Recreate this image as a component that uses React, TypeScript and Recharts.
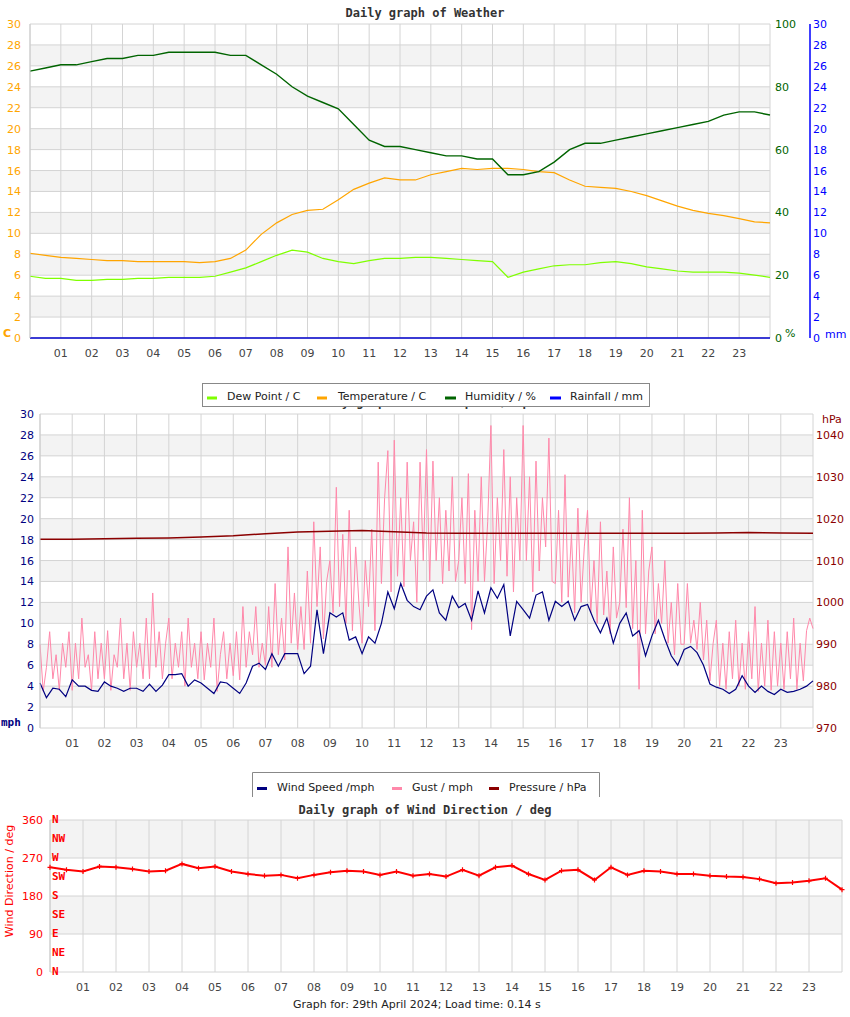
import React from "react";
import { LineChart, Line, XAxis, YAxis, CartesianGrid, ReferenceLine } from "recharts";

const SANS = "'DejaVu Sans', sans-serif";
const MONO = "'DejaVu Sans Mono', monospace";

const hourTicks = [0, 1, 2, 3, 4, 5, 6, 7, 8, 9, 10, 11, 12, 13, 14, 15, 16, 17, 18, 19, 20, 21, 22, 23, 24];

// ---- weather (half-hourly readings) ----
const weatherHours = Array.from({ length: 49 }, (_, i) => i / 2);
const temperature = [
  8.1, 7.9, 7.7, 7.6, 7.5, 7.4, 7.4, 7.3, 7.3, 7.3, 7.3, 7.2, 7.3, 7.6, 8.4, 9.9, 11.0, 11.8, 12.2, 12.3,
  13.2, 14.2, 14.8, 15.3, 15.1, 15.1, 15.6, 15.9, 16.2, 16.1, 16.2, 16.2, 16.1, 15.9, 15.8, 15.1, 14.5, 14.4,
  14.3, 14.0, 13.6, 13.1, 12.6, 12.2, 11.9, 11.7, 11.4, 11.1, 11.0,
];
const dewPoint = [
  5.9, 5.7, 5.7, 5.5, 5.5, 5.6, 5.6, 5.7, 5.7, 5.8, 5.8, 5.8, 5.9, 6.3, 6.7, 7.3, 7.9, 8.4, 8.2, 7.6,
  7.3, 7.1, 7.4, 7.6, 7.6, 7.7, 7.7, 7.6, 7.5, 7.4, 7.3, 5.8, 6.3, 6.6, 6.9, 7.0, 7.0, 7.2, 7.3, 7.1,
  6.8, 6.6, 6.4, 6.3, 6.3, 6.3, 6.2, 6.0, 5.8,
];
const humidity = [
  85, 86, 87, 87, 88, 89, 89, 90, 90, 91, 91, 91, 91, 90, 90, 87, 84, 80, 77, 75,
  73, 68, 63, 61, 61, 60, 59, 58, 58, 57, 57, 52, 52, 53, 56, 60, 62, 62, 63, 64,
  65, 66, 67, 68, 69, 71, 72, 72, 71,
];
const rainHours = [0, 24];
const rainfall = [0, 0];
const tempTicks = [0, 2, 4, 6, 8, 10, 12, 14, 16, 18, 20, 22, 24, 26, 28, 30];
const humTicks = [0, 20, 40, 60, 80, 100];
const rainTicks = [0, 2, 4, 6, 8, 10, 12, 14, 16, 18, 20, 22, 24, 26, 28, 30];

// ---- wind speed (every 12 minutes) ----
const windHours = Array.from({ length: 121 }, (_, i) => i / 5);
const windSpeed = [
  4.3, 2.9, 3.8, 3.7, 3.0, 4.6, 4.0, 4.0, 3.6, 3.5,
  4.4, 4.0, 3.8, 3.5, 3.8, 3.8, 3.5, 4.2, 3.5, 4.1,
  5.1, 5.1, 5.2, 4.0, 4.6, 4.3, 3.8, 3.3, 4.4, 4.3,
  3.8, 3.3, 4.3, 5.9, 6.2, 5.6, 7.1, 5.9, 7.1, 7.1,
  7.1, 5.2, 5.9, 11.3, 7.1, 11.0, 10.6, 11.0, 8.4, 8.7,
  7.1, 8.7, 8.1, 10.0, 13.0, 11.4, 13.8, 12.2, 11.6, 11.3,
  12.6, 13.2, 11.0, 10.3, 12.6, 11.5, 11.9, 10.3, 13.1, 11.0,
  13.4, 12.4, 13.7, 8.8, 12.1, 11.3, 10.5, 12.7, 13.0, 10.3,
  12.1, 11.6, 12.1, 10.3, 11.6, 11.8, 10.3, 9.1, 10.5, 8.1,
  10.0, 11.0, 8.8, 9.3, 6.9, 8.8, 10.3, 8.5, 6.9, 6.0,
  7.5, 7.8, 7.2, 6.0, 4.2, 3.9, 3.7, 3.3, 3.7, 5.0,
  4.0, 3.4, 4.0, 3.5, 3.2, 3.7, 3.4, 3.5, 3.7, 4.0,
  4.5,
];

// ---- gust (every 6 minutes) ----
const gustHours = Array.from({ length: 241 }, (_, i) => i / 10);
const gust = [
  8.0, 3.5, 5.8, 9.2, 4.7, 7.0, 3.6, 8.1, 5.8, 9.2,
  3.6, 8.1, 4.7, 10.5, 5.8, 7.0, 3.6, 9.2, 4.7, 8.1,
  4.7, 9.3, 3.6, 7.0, 5.8, 10.5, 4.7, 8.1, 3.6, 9.2,
  5.8, 8.1, 4.7, 10.5, 4.7, 12.9, 5.8, 9.2, 4.7, 8.1,
  10.5, 4.7, 8.1, 5.8, 9.2, 4.0, 10.5, 5.8, 8.1, 4.7,
  9.2, 4.6, 8.1, 5.8, 10.5, 3.5, 7.0, 9.2, 4.7, 8.1,
  5.0, 9.2, 4.6, 11.6, 5.8, 9.2, 7.0, 11.6, 5.8, 8.1,
  6.0, 11.6, 5.8, 13.8, 7.0, 10.5, 6.5, 17.3, 8.1, 12.9,
  7.5, 11.6, 7.5, 15.0, 8.1, 19.7, 11.6, 17.3, 8.5, 14.0,
  16.0, 11.0, 23.0, 11.6, 18.5, 10.0, 20.8, 9.3, 17.3, 12.0,
  8.1, 16.0, 11.6, 19.0, 9.3, 25.4, 13.8, 22.0, 26.5, 13.0,
  27.5, 14.5, 22.0, 13.5, 25.4, 16.0, 19.7, 12.0, 25.4, 16.0,
  26.6, 14.0, 25.5, 16.0, 22.0, 13.8, 20.8, 15.0, 24.0, 14.0,
  16.0, 22.0, 13.8, 24.3, 9.4, 20.8, 14.0, 24.0, 14.0, 19.7,
  28.9, 13.8, 22.0, 16.0, 26.6, 14.5, 24.0, 13.0, 22.0, 16.0,
  28.9, 16.0, 24.0, 13.0, 25.5, 15.0, 22.0, 17.3, 27.7, 14.0,
  13.8, 20.8, 12.0, 24.2, 12.5, 18.5, 11.0, 21.0, 12.0, 17.3,
  20.8, 11.0, 16.0, 10.0, 19.7, 10.8, 15.0, 9.0, 17.3, 10.5,
  12.0, 19.0, 11.5, 22.0, 9.5, 16.0, 3.7, 20.8, 9.0, 15.0,
  17.3, 9.0, 13.8, 10.0, 16.0, 8.1, 12.0, 7.0, 13.8, 8.0,
  8.0, 13.8, 8.1, 10.3, 7.5, 12.0, 6.5, 10.3, 4.5, 8.1,
  10.3, 4.0, 8.1, 3.7, 9.2, 4.7, 10.3, 4.0, 8.1, 3.7,
  9.2, 4.7, 11.6, 3.5, 8.1, 4.0, 10.3, 3.6, 9.2, 4.0,
  8.1, 3.7, 9.2, 4.7, 10.5, 3.7, 8.1, 4.5, 9.3, 10.5,
  9.5,
];
const pressureHours = hourTicks;
const pressure = [
  1015.1, 1015.1, 1015.2, 1015.3, 1015.4, 1015.6, 1015.9, 1016.4, 1016.8, 1017.0, 1017.2, 1016.9, 1016.6,
  1016.5, 1016.5, 1016.5, 1016.5, 1016.5, 1016.5, 1016.5, 1016.5, 1016.6, 1016.7, 1016.6, 1016.5,
];
const mphTicks = [0, 2, 4, 6, 8, 10, 12, 14, 16, 18, 20, 22, 24, 26, 28, 30];
const hpaTicks = [970, 980, 990, 1000, 1010, 1020, 1030, 1040];

// ---- wind direction (half-hourly) ----
const windDir = [
  248, 242, 238, 250, 248, 244, 238, 240, 256, 246, 250, 238, 232, 228, 230, 222, 230, 236, 240, 238,
  230, 238, 228, 232, 226, 242, 228, 248, 252, 232, 218, 240, 242, 218, 248, 230, 240, 238, 232, 232,
  228, 226, 225, 220, 210, 212, 216, 222, 195,
];
const degTicks = [0, 90, 180, 270, 360];
const compassDeg = [0, 45, 90, 135, 180, 225, 270, 315, 360];
const compass = ["N", "NE", "E", "SE", "S", "SW", "W", "NW", "N"];

const GRID = "#d4d4d4";
const BANDS = ["#ffffff", "#f3f3f3"];

const HourTick = ({ x, y, payload }: any) => {
  const h = payload.value;
  if (h === 0 || h === 24) return <g />;
  return (
    <text x={x} y={y + 19} textAnchor="middle" fontSize={11} fill="#444" fontFamily={SANS}>
      {String(h).padStart(2, "0")}
    </text>
  );
};

const leftTick = (color: string, gap: number) => ({ x, y, payload }: any) => (
  <text x={x - gap} y={y + 4} textAnchor="end" fontSize={11} fill={color} fontFamily={SANS}>
    {payload.value}
  </text>
);

const rightTick = (color: string, gap: number) => ({ x, y, payload }: any) => (
  <text x={x + gap} y={y + 4} textAnchor="start" fontSize={11} fill={color} fontFamily={SANS}>
    {payload.value}
  </text>
);

const PlusDot = (props: any) => {
  const { cx, cy, index } = props;
  return (
    <path key={index} d={`M${cx - 2.5},${cy}h5M${cx},${cy - 2.5}v5`} stroke="#ff0000" strokeWidth={1.2} fill="none" />
  );
};

const axisCommon = { tickLine: false, tickSize: 0, tickMargin: 0, interval: 0 as const };

export default function App() {
  const weatherData = weatherHours.map((t, i) => ({ t, temp: temperature[i], dew: dewPoint[i], hum: humidity[i] }));
  const rainData = rainHours.map((t, i) => ({ t, rain: rainfall[i] }));
  const windData = windHours.map((t, i) => ({ t, wind: windSpeed[i] }));
  const gustData = gustHours.map((t, i) => ({ t, gust: gust[i] }));
  const pressureData = pressureHours.map((t, i) => ({ t, hpa: pressure[i] }));
  const dirData = weatherHours.map((t, i) => ({ t, dir: windDir[i] }));

  return (
    <div style={{ position: "absolute", left: 0, top: 0, width: 850, height: 1017, background: "#fff" }}>
      {/* weather */}
      <div style={{ position: "absolute", left: 0, top: 0 }}>
        <LineChart width={850} height={360} data={weatherData} margin={{ top: 24, right: 0, bottom: 0, left: 0 }}>
          <CartesianGrid yAxisId="temp" stroke={GRID} horizontalFill={BANDS} fillOpacity={1} />
          <XAxis dataKey="t" type="number" domain={[0, 24]} ticks={hourTicks} height={22} tick={HourTick} axisLine={false} {...axisCommon} />
          <YAxis yAxisId="temp" domain={[0, 30]} ticks={tempTicks} width={30} tick={leftTick("#ffa500", 9)} axisLine={{ stroke: "#cccccc" }} {...axisCommon} />
          <YAxis yAxisId="hum" orientation="right" domain={[0, 100]} ticks={humTicks} width={40} tick={rightTick("#006400", 5)} axisLine={false} {...axisCommon} />
          <YAxis yAxisId="rain" orientation="right" domain={[0, 30]} ticks={rainTicks} width={40} tick={rightTick("#0000ff", 3)} axisLine={{ stroke: "#0000ff", strokeWidth: 1.5 }} {...axisCommon} />
          <Line yAxisId="temp" dataKey="dew" type="linear" stroke="#7fff00" strokeWidth={1.2} dot={false} isAnimationActive={false} />
          <Line yAxisId="temp" dataKey="temp" type="linear" stroke="#ffa500" strokeWidth={1.2} dot={false} isAnimationActive={false} />
          <Line yAxisId="hum" dataKey="hum" type="linear" stroke="#006400" strokeWidth={1.4} dot={false} isAnimationActive={false} />
          <Line yAxisId="rain" data={rainData} dataKey="rain" type="linear" stroke="#0000cc" strokeWidth={1.5} dot={false} isAnimationActive={false} />
        </LineChart>
      </div>

      {/* wind speed / gust / pressure */}
      <div style={{ position: "absolute", left: 0, top: 400 }}>
        <LineChart width={850} height={350} data={windData} margin={{ top: 14, right: 0, bottom: 0, left: 0 }}>
          <CartesianGrid yAxisId="mph" stroke={GRID} horizontalFill={BANDS} fillOpacity={1} />
          <XAxis dataKey="t" type="number" domain={[0, 24]} ticks={hourTicks} height={22} tick={HourTick} axisLine={false} {...axisCommon} />
          <YAxis yAxisId="mph" domain={[0, 30]} ticks={mphTicks} width={40} tick={leftTick("#000080", 6)} axisLine={{ stroke: "#cccccc" }} {...axisCommon} />
          <YAxis yAxisId="hpa" orientation="right" domain={[970, 1045]} ticks={hpaTicks} width={37} tick={rightTick("#8b0000", 3)} axisLine={false} {...axisCommon} />
          <Line yAxisId="mph" data={gustData} dataKey="gust" type="linear" stroke="#ff88aa" strokeWidth={1} dot={false} isAnimationActive={false} />
          <Line yAxisId="mph" dataKey="wind" type="linear" stroke="#000080" strokeWidth={1.2} dot={false} isAnimationActive={false} />
          <Line yAxisId="hpa" data={pressureData} dataKey="hpa" type="linear" stroke="#8b0000" strokeWidth={1.5} dot={false} isAnimationActive={false} />
        </LineChart>
      </div>

      {/* wind direction */}
      <div style={{ position: "absolute", left: 0, top: 810 }}>
        <LineChart width={850} height={184} data={dirData} margin={{ top: 10, right: 8, bottom: 0, left: 0 }}>
          <CartesianGrid yAxisId="deg" stroke={GRID} horizontalFill={["#f3f3f3", "#ffffff"]} fillOpacity={1} />
          <XAxis dataKey="t" type="number" domain={[0, 24]} ticks={hourTicks} height={22} tick={HourTick} axisLine={false} {...axisCommon} />
          <YAxis yAxisId="deg" domain={[0, 360]} ticks={degTicks} width={50} tick={leftTick("#ff0000", 7)} axisLine={{ stroke: "#cccccc" }} {...axisCommon} />
          {compassDeg.map((d, i) => (
            <ReferenceLine
              key={`c${i}`}
              yAxisId="deg"
              y={d}
              stroke="none"
              label={{ value: compass[i], position: "insideLeft", offset: 2, dy: -1, fill: "#ff0000", fontSize: 11, fontWeight: "bold", fontFamily: MONO }}
            />
          ))}
          <Line yAxisId="deg" dataKey="dir" type="linear" stroke="#ff0000" strokeWidth={2} dot={PlusDot} isAnimationActive={false} />
        </LineChart>
      </div>

      {/* titles, unit labels, legends */}
      <svg style={{ position: "absolute", left: 0, top: 0 }} width={850} height={1017}>
        <text x={425} y={17} textAnchor="middle" fontSize={12} fontWeight="bold" fill="#333" fontFamily={MONO}>
          Daily graph of Weather
        </text>
        <text x={3} y={337} fontSize={11} fontWeight="bold" fill="#ffa500" fontFamily={SANS}>C</text>
        <text x={785} y={337} fontSize={11} fill="#006400" fontFamily={SANS}>%</text>
        <text x={825} y={338} fontSize={11} fill="#0000ff" fontFamily={SANS}>mm</text>

        <text x={425} y={406} textAnchor="middle" fontSize={12} fontWeight="bold" fill="#333" fontFamily={MONO}>
          Daily graph of Wind Speed / mph
        </text>
        <rect x={202.5} y={383.5} width={447} height={23} fill="#fff" stroke="#888" />
        <line x1={207} x2={217} y1={398} y2={398} stroke="#7fff00" strokeWidth={3} />
        <text x={227} y={400} fontSize={11} fill="#222" fontFamily={SANS}>Dew Point / C</text>
        <line x1={317} x2={327} y1={398} y2={398} stroke="#ffa500" strokeWidth={3} />
        <text x={338} y={400} fontSize={11} fill="#222" fontFamily={SANS}>Temperature / C</text>
        <line x1={445} x2={456} y1={398} y2={398} stroke="#006400" strokeWidth={3} />
        <text x={465} y={400} fontSize={11} fill="#222" fontFamily={SANS}>Humidity / %</text>
        <line x1={550} x2={561} y1={398} y2={398} stroke="#0000ff" strokeWidth={3} />
        <text x={570} y={400} fontSize={11} fill="#222" fontFamily={SANS}>Rainfall / mm</text>

        <text x={1} y={726} fontSize={11} fontWeight="bold" fill="#000080" fontFamily={MONO}>mph</text>
        <text x={822} y={423} fontSize={11} fill="#8b0000" fontFamily={SANS}>hPa</text>

        <path d="M252.5,797V772.5H599.5V797" fill="#fff" stroke="#888" />
        <line x1={257} x2={267} y1={788.5} y2={788.5} stroke="#000080" strokeWidth={3} />
        <text x={277} y={791} fontSize={11} fill="#222" fontFamily={SANS}>Wind Speed /mph</text>
        <line x1={392} x2={402} y1={788.5} y2={788.5} stroke="#ff88aa" strokeWidth={3} />
        <text x={412} y={791} fontSize={11} fill="#222" fontFamily={SANS}>Gust / mph</text>
        <line x1={489} x2={499} y1={788.5} y2={788.5} stroke="#8b0000" strokeWidth={3} />
        <text x={509} y={791} fontSize={11} fill="#222" fontFamily={SANS}>Pressure / hPa</text>

        <text x={425} y={814} textAnchor="middle" fontSize={12} fontWeight="bold" fill="#333" fontFamily={MONO}>
          Daily graph of Wind Direction / deg
        </text>
        <text x={13} y={881} textAnchor="middle" transform="rotate(-90 13 881)" fontSize={11} fill="#ff0000" fontFamily={SANS}>
          Wind Direction / deg
        </text>

        <text x={293} y={1008} fontSize={11} fill="#222" fontFamily={SANS}>
          Graph for: 29th April 2024; Load time: 0.14 s
        </text>
      </svg>
    </div>
  );
}
